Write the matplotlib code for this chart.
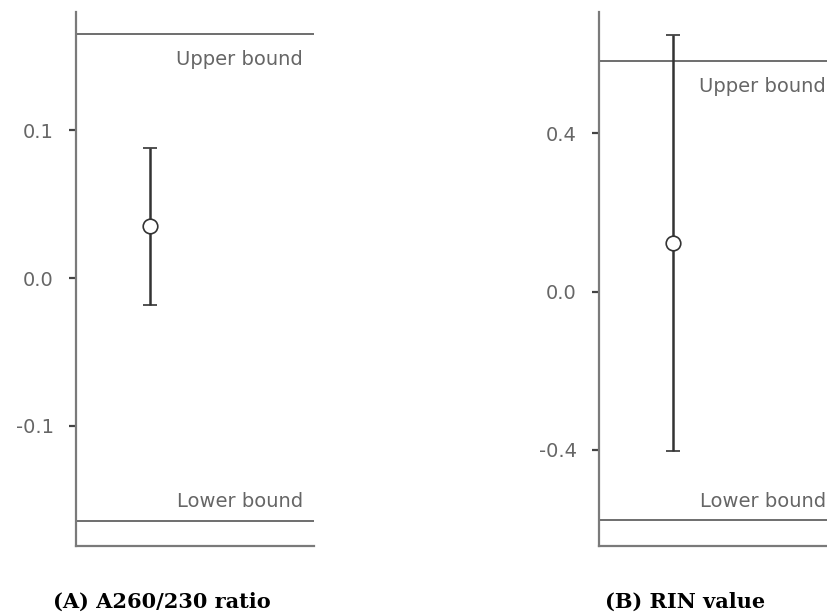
import matplotlib
matplotlib.use('Agg')
import matplotlib.pyplot as plt

# values
panels = ['(A) A260/230 ratio', '(B) RIN value']
means = [0.035, 0.122]
err_lo = [-0.018, -0.403]
err_hi = [0.088, 0.647]
upper = [0.165, 0.582]
lower = [-0.164, -0.578]
yticks = [[-0.1, 0.0, 0.1], [-0.4, 0.0, 0.4]]
ylims = [(-0.181, 0.180), (-0.642, 0.706)]

plt.rcParams['font.family'] = ['DejaVu Sans']

fig = plt.figure(figsize=(8.27, 6.15), dpi=100)
lefts = [76 / 827, 599 / 827]
w = 238 / 827
bottom = 1 - 545.7 / 615
h = (545.7 - 12) / 615

spine_col = '#7a7a7a'
txt_col = '#666666'

for i in range(2):
    ax = fig.add_axes([lefts[i], bottom, w, h])
    ax.set_xlim(0, 1)
    ax.set_ylim(*ylims[i])
    for s in ['top', 'right']:
        ax.spines[s].set_visible(False)
    for s in ['left', 'bottom']:
        ax.spines[s].set_color(spine_col)
        ax.spines[s].set_linewidth(1.6)
    ax.set_xticks([])
    ax.set_yticks(yticks[i])
    ax.set_yticklabels([f'{v:.1f}' for v in yticks[i]])
    ax.tick_params(axis='y', length=5, width=1.6, color='#444444',
                   labelcolor=txt_col, labelsize=14, pad=11)

    ax.axhline(upper[i], color='#6e6e6e', lw=1.4)
    ax.axhline(lower[i], color='#6e6e6e', lw=1.4)
    ax.annotate('Upper bound', (0.954, upper[i]), xycoords=('axes fraction', 'data'),
                xytext=(0, -22), textcoords='offset points', ha='right', va='baseline',
                color=txt_col, fontsize=14)
    ax.annotate('Lower bound', (0.954, lower[i]), xycoords=('axes fraction', 'data'),
                xytext=(0, 9.5), textcoords='offset points', ha='right', va='baseline',
                color=txt_col, fontsize=14)

    m = means[i]
    ax.errorbar([0.31], [m], yerr=[[m - err_lo[i]], [err_hi[i] - m]],
                fmt='o', color='#333333', ecolor='#333333', elinewidth=1.8,
                capsize=4.8, capthick=1.8, markersize=10.5,
                markerfacecolor='white', markeredgecolor='#333333',
                markeredgewidth=1.2, zorder=3)

    ax.text(0.36, -0.105, panels[i], transform=ax.transAxes, ha='center', va='center',
            family=['DejaVu Serif'], fontweight='bold', fontsize=15)

fig.savefig('out.png', dpi=100)
